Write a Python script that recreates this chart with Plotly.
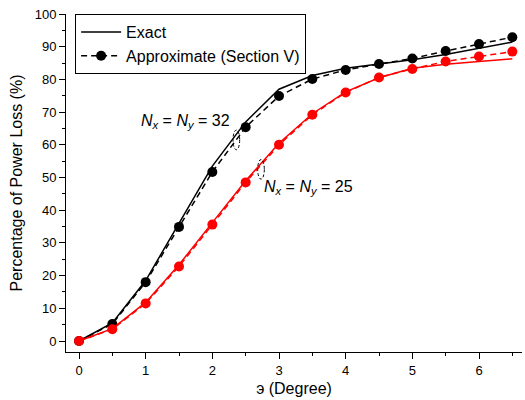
import plotly.graph_objects as go

angles = [0, 0.5, 1, 1.5, 2, 2.5, 3, 3.5, 4, 4.5, 5, 5.5, 6, 6.5]

exact_32 = [0, 5.5, 18.5, 36.0, 53.5, 67.0, 77.0, 81.2, 83.4, 84.7, 86.0, 87.6, 89.5, 91.4]
approx_32 = [0, 5.2, 18.0, 34.9, 51.7, 65.4, 74.9, 80.1, 82.9, 84.7, 86.4, 88.7, 90.8, 92.9]
exact_25 = [0, 3.8, 11.8, 23.3, 36.2, 49.0, 60.5, 69.5, 76.2, 80.5, 83.4, 84.6, 85.5, 86.3]
approx_25 = [0, 3.6, 11.5, 22.8, 35.6, 48.5, 60.0, 69.2, 76.0, 80.6, 83.2, 85.5, 87.0, 88.5]

FONT = "Liberation Sans, Arial, sans-serif"

fig = go.Figure()
fig.add_trace(go.Scatter(x=angles, y=exact_32, mode="lines", name="Exact",
                         line=dict(color="black", width=1.5)))
fig.add_trace(go.Scatter(x=angles, y=approx_32, mode="lines+markers",
                         name="Approximate (Section V)",
                         line=dict(color="black", width=1.5, dash="6px,4px"),
                         marker=dict(color="black", size=10)))
fig.add_trace(go.Scatter(x=angles, y=exact_25, mode="lines", showlegend=False,
                         line=dict(color="red", width=1.5)))
fig.add_trace(go.Scatter(x=angles, y=approx_25, mode="lines+markers", showlegend=False,
                         line=dict(color="red", width=1.5, dash="6px,4px"),
                         marker=dict(color="red", size=10)))

fig.add_annotation(x=2.3, y=67, xanchor="right", yanchor="middle", showarrow=False,
                   text="<i>N</i><sub><i>x</i></sub> = <i>N</i><sub><i>y</i></sub> = 32",
                   font=dict(family=FONT, size=16, color="black"))
fig.add_annotation(x=2.75, y=47, xanchor="left", yanchor="middle", showarrow=False,
                   text="<i>N</i><sub><i>x</i></sub> = <i>N</i><sub><i>y</i></sub> = 25",
                   font=dict(family=FONT, size=16, color="black"))

# small ellipse marks around the curve pairs
fig.add_shape(type="circle", x0=2.31, x1=2.41, y0=58.5, y1=64.5,
              line=dict(color="black", width=1, dash="3px,2px"))
fig.add_shape(type="circle", x0=2.68, x1=2.78, y0=49.5, y1=55.5,
              line=dict(color="black", width=1, dash="3px,2px"))

fig.update_layout(
    width=525, height=400,
    margin=dict(l=66, r=3, t=14, b=48),
    paper_bgcolor="white", plot_bgcolor="white",
    font=dict(family=FONT, size=13, color="black"),
    showlegend=True,
    legend=dict(x=0.02, y=1.0, xanchor="left", yanchor="top",
                bgcolor="white", bordercolor="black", borderwidth=1,
                font=dict(family=FONT, size=16, color="black"),
                tracegroupgap=0, itemwidth=40),
    xaxis=dict(range=[-0.195, 6.645], tickmode="linear", tick0=0, dtick=1,
               showgrid=False, zeroline=False, showline=True, linecolor="black",
               linewidth=1, ticks="outside", ticklen=6, tickcolor="black",
               minor=dict(ticks="outside", ticklen=3, dtick=0.5, tickcolor="black"),
               title=dict(text="э (Degree)", font=dict(family=FONT, size=16), standoff=6),
               tickfont=dict(family=FONT, size=13)),
    yaxis=dict(range=[-3.36, 100], tickmode="linear", tick0=0, dtick=10,
               showgrid=False, zeroline=False, showline=True, linecolor="black",
               linewidth=1, ticks="outside", ticklen=6, tickcolor="black",
               minor=dict(ticks="outside", ticklen=3, dtick=5, tickcolor="black"),
               title=dict(text="Percentage of Power Loss (%)",
                          font=dict(family=FONT, size=16), standoff=8),
               tickfont=dict(family=FONT, size=13)),
)

fig.write_html("out.html")
